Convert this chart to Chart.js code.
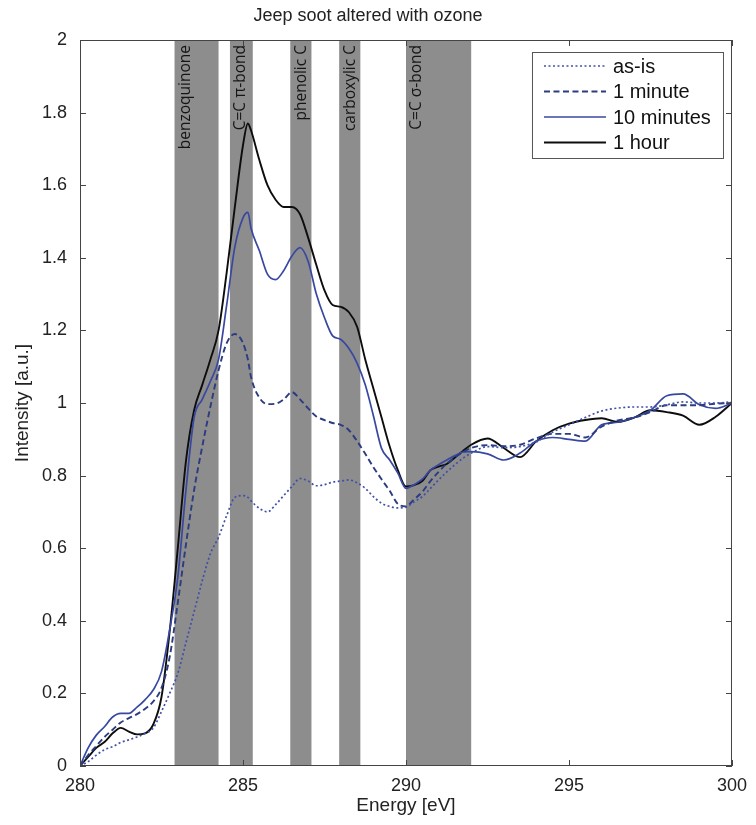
<!DOCTYPE html>
<html>
<head>
<meta charset="utf-8">
<script src="https://cdn.jsdelivr.net/npm/chart.js@4.4.1/dist/chart.umd.min.js"></script>
<style>
  html, body { margin: 0; padding: 0; background: #fff; }
</style>
</head>
<body>
<canvas id="myChart" width="756" height="825"></canvas>
<script>
// photon energy grid [eV], shared by all four spectra
const energy = [
  280, 280.25, 280.5, 280.75, 281, 281.25, 281.5, 281.75, 282, 282.25,
  282.5, 282.75, 283, 283.25, 283.5, 283.75, 284, 284.25, 284.5, 284.75,
  285, 285.15, 285.25, 285.5, 285.75, 286, 286.25, 286.5, 286.75, 287,
  287.25, 287.5, 287.75, 288, 288.25, 288.5, 288.75, 289, 289.25, 289.5,
  289.75, 290, 290.25, 290.5, 290.75, 291, 291.25, 291.5, 291.75, 292,
  292.5, 293, 293.5, 294, 294.5, 295, 295.5, 296, 296.5, 297,
  297.5, 298, 298.5, 299, 299.5, 300
];

const asIs = [
  0, 0.012, 0.03, 0.045, 0.053, 0.065, 0.072, 0.08, 0.09, 0.105,
  0.15, 0.2, 0.255, 0.34, 0.425, 0.51, 0.585, 0.63, 0.69, 0.74,
  0.745, 0.74, 0.73, 0.71, 0.70, 0.72, 0.745, 0.77, 0.792, 0.785,
  0.772, 0.775, 0.782, 0.785, 0.788, 0.78, 0.765, 0.742, 0.724, 0.715,
  0.711, 0.713, 0.728, 0.742, 0.765, 0.788, 0.81, 0.83, 0.848, 0.862,
  0.88, 0.877, 0.88, 0.893, 0.92, 0.94, 0.96, 0.978, 0.986, 0.989,
  0.989, 0.995, 1.003, 1.0, 1.0, 1.003
];

const oneMinute = [
  0, 0.03, 0.055, 0.08, 0.10, 0.12, 0.132, 0.143, 0.158, 0.178,
  0.215, 0.3, 0.45, 0.61, 0.76, 0.88, 0.99, 1.09, 1.165, 1.19,
  1.165, 1.12, 1.07, 1.015, 0.997, 0.998, 1.01, 1.03, 1.01, 0.985,
  0.963, 0.953, 0.945, 0.94, 0.925, 0.895, 0.86, 0.823, 0.79, 0.758,
  0.722, 0.715, 0.735, 0.755, 0.785, 0.81, 0.833, 0.85, 0.865, 0.876,
  0.884, 0.881, 0.885, 0.903, 0.915, 0.915, 0.905, 0.935, 0.952, 0.96,
  0.975, 0.994, 0.994, 0.994, 0.998, 1.0
];

const tenMinutes = [
  0, 0.05, 0.085, 0.108, 0.135, 0.145, 0.145, 0.162, 0.183, 0.21,
  0.26, 0.375, 0.52, 0.76, 0.96, 1.01, 1.06, 1.12, 1.27, 1.43,
  1.51, 1.525, 1.48, 1.42, 1.355, 1.34, 1.365, 1.405, 1.428, 1.39,
  1.30, 1.235, 1.185, 1.175, 1.15, 1.11, 1.05, 0.965, 0.875, 0.843,
  0.807, 0.765, 0.775, 0.79, 0.815, 0.83, 0.843, 0.855, 0.865, 0.866,
  0.86, 0.843, 0.862, 0.895, 0.905, 0.9, 0.895, 0.94, 0.947, 0.96,
  0.98, 1.02, 1.025, 0.995, 0.985, 1.0
];

const oneHour = [
  0, 0.025, 0.05, 0.066, 0.09, 0.105, 0.095, 0.087, 0.09, 0.115,
  0.19, 0.37, 0.6, 0.84, 0.98, 1.05, 1.12, 1.2, 1.36, 1.54,
  1.71, 1.77, 1.75, 1.67, 1.60, 1.56, 1.54, 1.54, 1.52, 1.455,
  1.38, 1.31, 1.27, 1.265, 1.25, 1.21, 1.12, 1.04, 0.96, 0.88,
  0.815, 0.77, 0.774, 0.785, 0.815, 0.825, 0.832, 0.85, 0.868, 0.885,
  0.902, 0.876, 0.851, 0.895, 0.925, 0.943, 0.953, 0.958, 0.948, 0.96,
  0.98, 0.975, 0.965, 0.94, 0.962, 1.0
];

// shaded absorption bands [eV]
const bandStart = [282.9, 284.6, 286.45, 287.95, 290.0];
const bandEnd = [284.25, 285.3, 287.1, 288.6, 292.0];
const bandLabels = ['benzoquinone', 'C=C \u03c0-bond', 'phenolic C', 'carboxylic C', 'C=C \u03c3-bond'];

const xTicks = [280, 285, 290, 295, 300];
const yTicks = [0, 0.2, 0.4, 0.6, 0.8, 1, 1.2, 1.4, 1.6, 1.8, 2];

const seriesLabels = ['as-is', '1 minute', '10 minutes', '1 hour'];

function pts(vals) {
  return energy.map((e, i) => ({ x: e, y: vals[i] }));
}

// bands, frame with inward ticks, and the in-plot legend
const decor = {
  id: 'decor',
  beforeDatasetsDraw(chart) {
    const { ctx, chartArea: a, scales: { x } } = chart;
    ctx.save();
    ctx.fillStyle = '#8d8d8d';
    bandStart.forEach((s, i) => {
      const l = x.getPixelForValue(s);
      const r = x.getPixelForValue(bandEnd[i]);
      ctx.fillRect(l, a.top, r - l, a.bottom - a.top);
    });
    ctx.fillStyle = '#161616';
    ctx.font = '15.5px "Open Sans"';
    ctx.textAlign = 'right';
    ctx.textBaseline = 'middle';
    bandLabels.forEach((t, i) => {
      ctx.save();
      ctx.translate(x.getPixelForValue(bandStart[i]) + 11, a.top + 5);
      ctx.rotate(-Math.PI / 2);
      ctx.fillText(t, 0, 0);
      ctx.restore();
    });
    ctx.restore();
  },
  afterDraw(chart) {
    const { ctx, chartArea: a, scales: { x, y } } = chart;
    ctx.save();
    ctx.strokeStyle = '#444';
    ctx.lineWidth = 1;
    ctx.strokeRect(a.left + 0.5, a.top + 0.5, a.right - a.left - 1, a.bottom - a.top - 1);
    const tl = 6;
    ctx.beginPath();
    xTicks.forEach(v => {
      const px = Math.round(x.getPixelForValue(v)) + 0.5;
      ctx.moveTo(px, a.bottom); ctx.lineTo(px, a.bottom - tl);
      ctx.moveTo(px, a.top); ctx.lineTo(px, a.top + tl);
    });
    yTicks.forEach(v => {
      const py = Math.round(y.getPixelForValue(v)) + 0.5;
      ctx.moveTo(a.left, py); ctx.lineTo(a.left + tl, py);
      ctx.moveTo(a.right, py); ctx.lineTo(a.right - tl, py);
    });
    ctx.stroke();

    // legend
    const bw = 191, bh = 106;
    const bx = a.right - 9 - bw, by = a.top + 12;
    ctx.fillStyle = '#fff';
    ctx.fillRect(bx, by, bw, bh);
    ctx.strokeStyle = '#555';
    ctx.strokeRect(bx + 0.5, by + 0.5, bw, bh);
    ctx.font = '20px "Liberation Sans", Arial, sans-serif';
    ctx.textAlign = 'left';
    ctx.textBaseline = 'middle';
    chart.data.datasets.forEach((ds, i) => {
      const ry = by + 14 + i * 25.5;
      ctx.save();
      ctx.strokeStyle = ds.borderColor;
      ctx.lineWidth = ds.borderWidth;
      ctx.setLineDash(ds.borderDash || []);
      ctx.beginPath();
      ctx.moveTo(bx + 12, ry);
      ctx.lineTo(bx + 74, ry);
      ctx.stroke();
      ctx.restore();
      ctx.fillStyle = '#111';
      ctx.fillText(ds.label, bx + 81, ry + 1);
    });
    ctx.restore();
  }
};

const ctx = document.getElementById('myChart').getContext('2d');
new Chart(ctx, {
  type: 'line',
  data: {
    datasets: [
      { label: seriesLabels[0], data: pts(asIs), borderColor: '#4050a6', borderWidth: 1.7, borderDash: [2, 2.5] },
      { label: seriesLabels[1], data: pts(oneMinute), borderColor: '#2b3c80', borderWidth: 1.9, borderDash: [6, 3.5] },
      { label: seriesLabels[2], data: pts(tenMinutes), borderColor: '#3848a0', borderWidth: 1.7 },
      { label: seriesLabels[3], data: pts(oneHour), borderColor: '#0d0d0d', borderWidth: 1.9 }
    ]
  },
  options: {
    responsive: false,
    animation: false,
    devicePixelRatio: 1,
    layout: { padding: { top: 0, right: 20, bottom: 0, left: 0 } },
    elements: {
      point: { radius: 0 },
      line: { cubicInterpolationMode: 'monotone', fill: false }
    },
    plugins: {
      legend: { display: false },
      tooltip: { enabled: false },
      title: {
        display: true,
        text: 'Jeep soot altered with ozone',
        color: '#222',
        font: { family: '"Liberation Sans", Arial, sans-serif', size: 18, weight: 'normal' },
        padding: { top: 5, bottom: 13.4 }
      }
    },
    scales: {
      x: {
        type: 'linear',
        min: 280,
        max: 300,
        afterBuildTicks: s => { s.ticks = xTicks.map(v => ({ value: v })); },
        afterFit: s => { s.height = 59; },
        grid: { display: false, drawTicks: false },
        border: { display: false },
        ticks: {
          color: '#222',
          padding: 9,
          maxRotation: 0,
          font: { family: '"Liberation Sans", Arial, sans-serif', size: 18 }
        },
        title: {
          display: true,
          text: 'Energy [eV]',
          color: '#222',
          font: { family: '"Liberation Sans", Arial, sans-serif', size: 19 },
          padding: { top: 0, bottom: 8 }
        }
      },
      y: {
        min: 0,
        max: 2,
        afterBuildTicks: s => { s.ticks = yTicks.map(v => ({ value: v })); },
        afterFit: s => { s.width = 80; },
        grid: { display: false, drawTicks: false },
        border: { display: false },
        ticks: {
          color: '#222',
          padding: 13,
          callback: v => String(Math.round(v * 10) / 10),
          font: { family: '"Liberation Sans", Arial, sans-serif', size: 18 }
        },
        title: {
          display: true,
          text: 'Intensity [a.u.]',
          color: '#222',
          font: { family: '"Liberation Sans", Arial, sans-serif', size: 19 },
          padding: { top: 11, bottom: 0 }
        }
      }
    }
  },
  plugins: [decor]
});
</script>
</body>
</html>
